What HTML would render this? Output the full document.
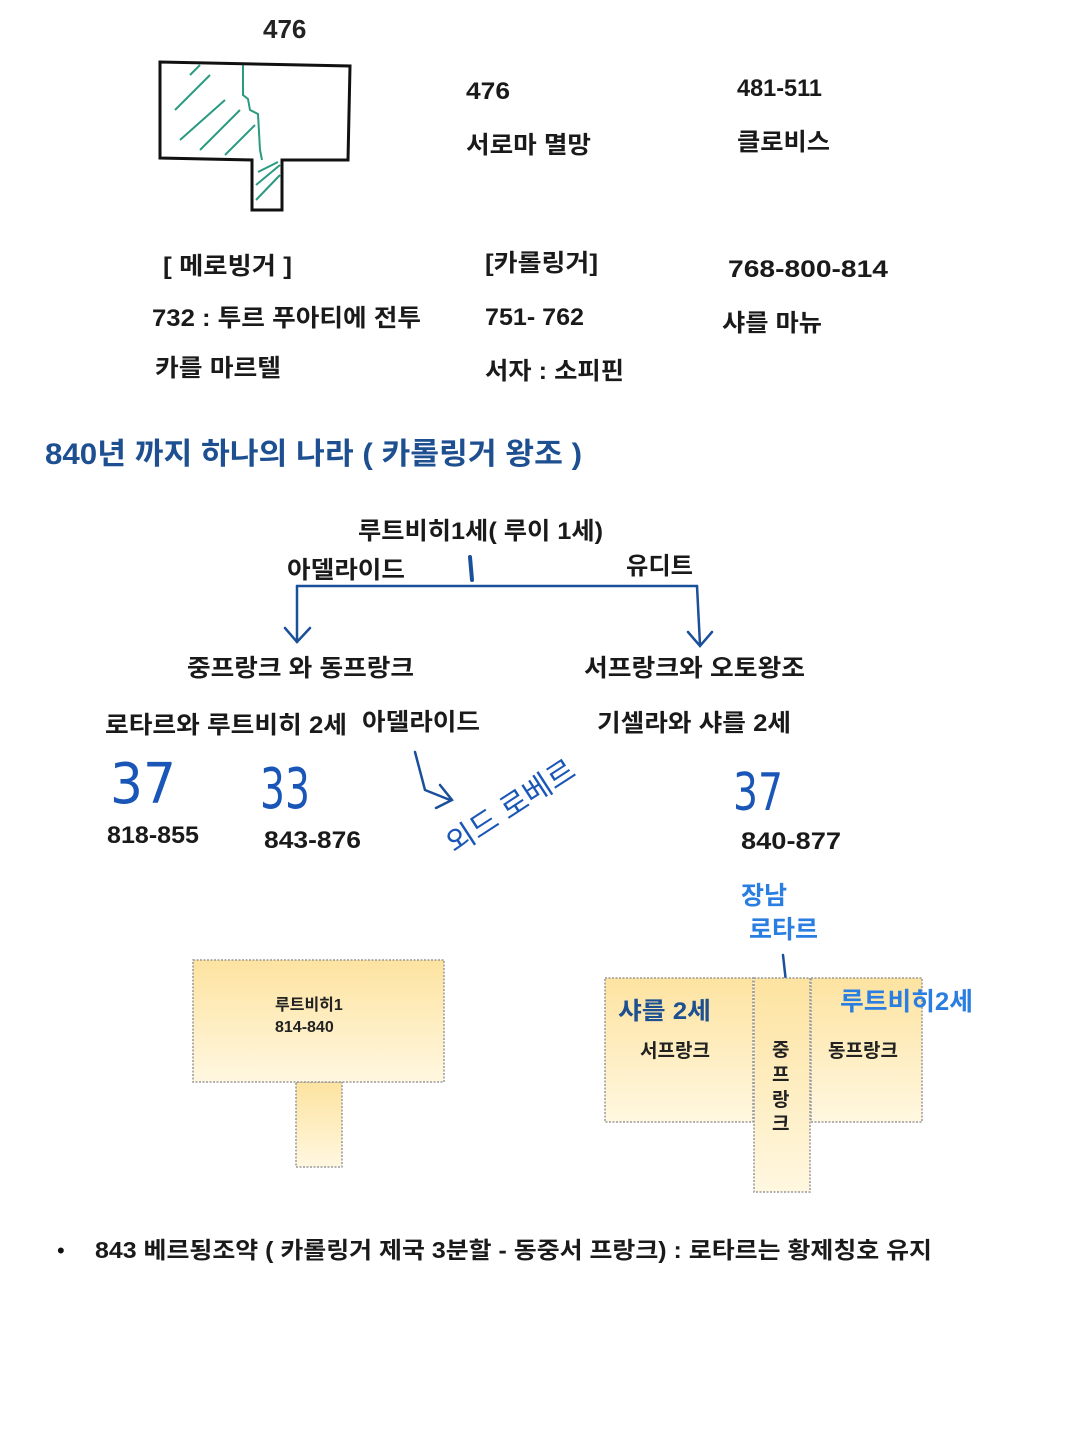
<!DOCTYPE html>
<html><head><meta charset="utf-8"><style>
html,body{margin:0;padding:0;background:#fff;}
svg{display:block;font-family:"Liberation Sans","Noto Sans CJK KR",sans-serif;}
</style></head><body>
<svg width="1080" height="1440" viewBox="0 0 1080 1440" xmlns="http://www.w3.org/2000/svg">
<defs>
<linearGradient id="g" x1="0" y1="0" x2="0" y2="1">
<stop offset="0" stop-color="#fde3a0"/><stop offset="1" stop-color="#fff7e0"/></linearGradient>
</defs>
<!-- sketch -->
<text x="263" y="38" font-size="26" font-weight="bold" fill="#222">476</text>
<g stroke="#2a9a80" stroke-width="2" fill="none">
<path d="M243 64 L243 95 L248 99 L250 110 L258 114 L260 150 L262 160"/>
<path d="M190 75 L200 65 M175 110 L210 75 M180 140 L225 100 M200 150 L240 110 M225 155 L255 125"/>
<path d="M256 200 L280 175 M256 185 L280 165 M258 172 L278 162"/>
</g>
<path d="M160 62 L350 66 L348 160 L282 160 L282 210 L252 210 L252 160 L160 158 Z" fill="none" stroke="#111" stroke-width="3"/>
<g font-size="24" font-weight="bold" fill="#1a1a1a" lengthAdjust="spacingAndGlyphs">
<text x="466" y="99" textLength="44" lengthAdjust="spacingAndGlyphs">476</text>
<text x="737" y="96" textLength="85" lengthAdjust="spacingAndGlyphs">481-511</text>
<text x="466" y="153" textLength="125" lengthAdjust="spacingAndGlyphs">서로마 멸망</text>
<text x="737" y="150" textLength="93" lengthAdjust="spacingAndGlyphs">클로비스</text>
<text x="163" y="274" textLength="129" lengthAdjust="spacingAndGlyphs">[ 메로빙거 ]</text>
<text x="485" y="271" textLength="113" lengthAdjust="spacingAndGlyphs">[카롤링거]</text>
<text x="728" y="277" textLength="160" lengthAdjust="spacingAndGlyphs">768-800-814</text>
<text x="152" y="326" textLength="269" lengthAdjust="spacingAndGlyphs">732 : 투르 푸아티에 전투</text>
<text x="485" y="325" textLength="99" lengthAdjust="spacingAndGlyphs">751- 762</text>
<text x="722" y="331" textLength="100" lengthAdjust="spacingAndGlyphs">샤를 마뉴</text>
<text x="155" y="376" textLength="126" lengthAdjust="spacingAndGlyphs">카를 마르텔</text>
<text x="485" y="379" textLength="139" lengthAdjust="spacingAndGlyphs">서자 : 소피핀</text>
</g>
<text x="45" y="464" font-size="30" font-weight="bold" fill="#1d4f91" textLength="537" lengthAdjust="spacingAndGlyphs">840년 까지 하나의 나라 ( 카롤링거 왕조 )</text>
<g font-size="24" font-weight="bold" fill="#1a1a1a">
<text x="358" y="539" textLength="245" lengthAdjust="spacingAndGlyphs">루트비히1세( 루이 1세)</text>
<text x="287" y="578" textLength="118" lengthAdjust="spacingAndGlyphs">아델라이드</text>
<text x="626" y="574" textLength="67" lengthAdjust="spacingAndGlyphs">유디트</text>
<text x="187" y="676" textLength="227" lengthAdjust="spacingAndGlyphs">중프랑크 와 동프랑크</text>
<text x="584" y="676" textLength="221" lengthAdjust="spacingAndGlyphs">서프랑크와 오토왕조</text>
<text x="105" y="733" textLength="242" lengthAdjust="spacingAndGlyphs">로타르와 루트비히 2세</text>
<text x="362" y="730" textLength="118" lengthAdjust="spacingAndGlyphs">아델라이드</text>
<text x="597" y="731" textLength="194" lengthAdjust="spacingAndGlyphs">기셀라와 샤를 2세</text>
<text x="107" y="843" textLength="92" lengthAdjust="spacingAndGlyphs">818-855</text>
<text x="264" y="848" textLength="97" lengthAdjust="spacingAndGlyphs">843-876</text>
<text x="741" y="849" textLength="100" lengthAdjust="spacingAndGlyphs">840-877</text>
</g>
<g stroke="#1a4f9a" stroke-width="2.5" fill="none" stroke-linecap="round">
<path d="M470 557 L472 580" stroke-width="4"/>
<path d="M297 586 L697 586"/>
<path d="M297 586 L297 640 M285 628 L297 642 L310 628"/>
<path d="M697 586 L700 645 M688 632 L700 646 L712 632"/>
<path d="M415 752 L425 790 L450 800 M440 785 L452 800 L436 808"/>
<path d="M783 955 L788 1000 M778 990 L788 1002 L797 990"/>
</g>
<g fill="#1a56b8">
<text x="110" y="803" font-size="56" font-family="'DejaVu Sans',sans-serif" font-weight="normal" textLength="66" lengthAdjust="spacingAndGlyphs">37</text>
<text x="260" y="808" font-size="56" font-family="'DejaVu Sans',sans-serif" textLength="50" lengthAdjust="spacingAndGlyphs">33</text>
<text x="733" y="810" font-size="52" font-family="'DejaVu Sans',sans-serif" textLength="50" lengthAdjust="spacingAndGlyphs">37</text>
<text x="0" y="0" font-size="30" transform="translate(455 855) rotate(-33)">외드 로베르</text>
</g>
<text x="741" y="904" font-size="25" font-weight="bold" fill="#2a7de1">장남</text>
<text x="749" y="938" font-size="25" font-weight="bold" fill="#2a7de1">로타르</text>
<!-- boxes -->
<g stroke="#999" stroke-width="1.5" stroke-dasharray="2 1.5" fill="url(#g)">
<rect x="296" y="1082" width="46" height="85"/>
<rect x="193" y="960" width="251" height="122"/>
<rect x="605" y="978" width="148" height="144"/>
<rect x="811" y="978" width="111" height="144"/>
<rect x="754" y="978" width="56" height="214"/>
</g>
<g font-size="16" font-weight="bold" fill="#222">
<text x="275" y="1010">루트비히1</text>
<text x="275" y="1032">814-840</text>
</g>
<text x="618" y="1019" font-size="24" font-weight="bold" fill="#1d4f91" textLength="93" lengthAdjust="spacingAndGlyphs">샤를 2세</text>
<g font-size="19" font-weight="bold" fill="#222">
<text x="640" y="1057">서프랑크</text>
<text x="828" y="1057">동프랑크</text>
<text x="772" y="1056">중</text>
<text x="772" y="1081">프</text>
<text x="772" y="1106">랑</text>
<text x="772" y="1130">크</text>
</g>
<text x="840" y="1010" font-size="25" font-weight="bold" fill="#2a7de1" textLength="133" lengthAdjust="spacingAndGlyphs">루트비히2세</text>
<text x="57" y="1258" font-size="22" fill="#111">•</text>
<text x="95" y="1258" font-size="23" font-weight="bold" fill="#1a1a1a" textLength="837" lengthAdjust="spacingAndGlyphs">843 베르됭조약 ( 카롤링거 제국 3분할 -  동중서 프랑크) : 로타르는 황제칭호 유지</text>
</svg>
</body></html>
